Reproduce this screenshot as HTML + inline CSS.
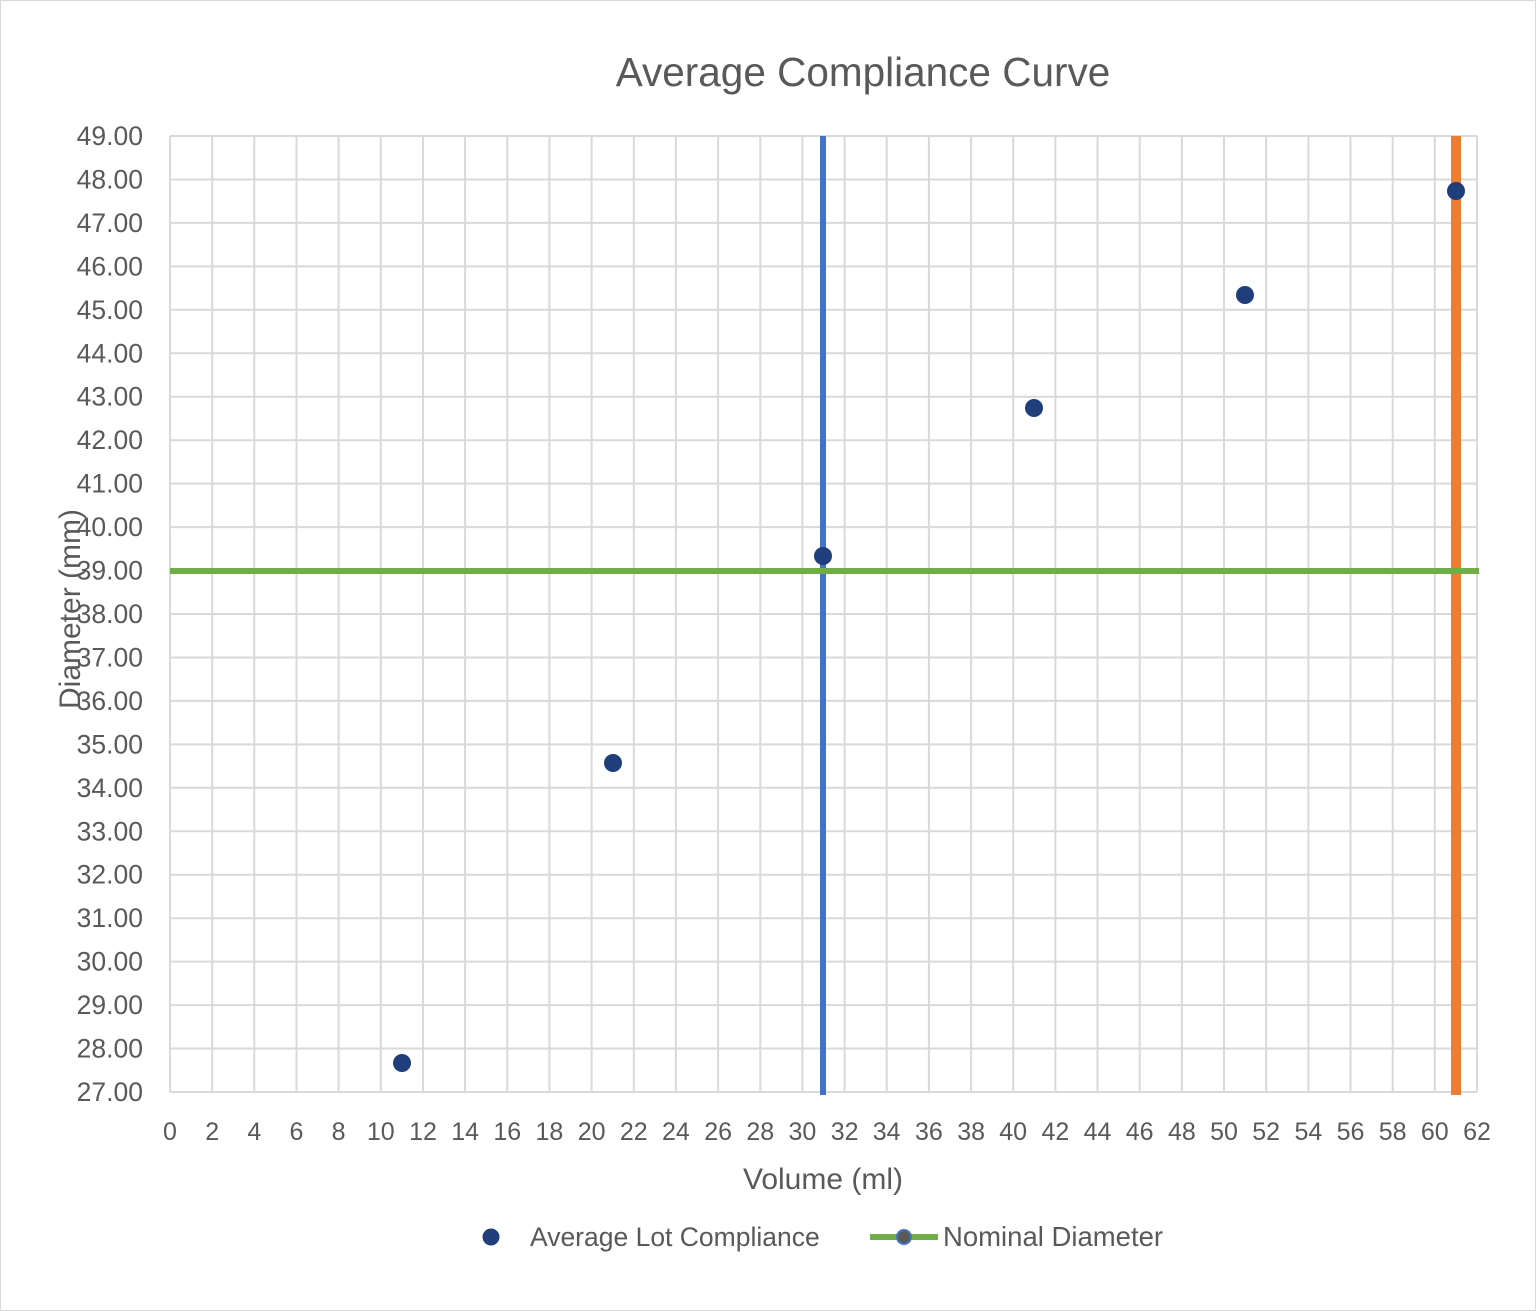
<!DOCTYPE html>
<html><head><meta charset="utf-8"><style>
html,body{margin:0;padding:0;background:#fff;}
svg{display:block;}
text{font-family:"Liberation Sans",sans-serif;fill:#595959;}
</style></head><body>
<svg width="1536" height="1311" viewBox="0 0 1536 1311" xmlns="http://www.w3.org/2000/svg">
<rect x="0.5" y="0.5" width="1535" height="1310" fill="#fff" stroke="#d9d9d9"/>
<text x="863" y="86" font-size="40.5" text-anchor="middle">Average Compliance Curve</text>
<g stroke="#d9d9d9" stroke-width="2">
<line x1="170" y1="136" x2="1477" y2="136"/><line x1="170" y1="179.5" x2="1477" y2="179.5"/><line x1="170" y1="222.9" x2="1477" y2="222.9"/><line x1="170" y1="266.4" x2="1477" y2="266.4"/><line x1="170" y1="309.8" x2="1477" y2="309.8"/><line x1="170" y1="353.3" x2="1477" y2="353.3"/><line x1="170" y1="396.7" x2="1477" y2="396.7"/><line x1="170" y1="440.2" x2="1477" y2="440.2"/><line x1="170" y1="483.6" x2="1477" y2="483.6"/><line x1="170" y1="527.1" x2="1477" y2="527.1"/><line x1="170" y1="570.5" x2="1477" y2="570.5"/><line x1="170" y1="614" x2="1477" y2="614"/><line x1="170" y1="657.5" x2="1477" y2="657.5"/><line x1="170" y1="700.9" x2="1477" y2="700.9"/><line x1="170" y1="744.4" x2="1477" y2="744.4"/><line x1="170" y1="787.8" x2="1477" y2="787.8"/><line x1="170" y1="831.3" x2="1477" y2="831.3"/><line x1="170" y1="874.7" x2="1477" y2="874.7"/><line x1="170" y1="918.2" x2="1477" y2="918.2"/><line x1="170" y1="961.6" x2="1477" y2="961.6"/><line x1="170" y1="1005.1" x2="1477" y2="1005.1"/><line x1="170" y1="1048.5" x2="1477" y2="1048.5"/><line x1="170" y1="1092" x2="1477" y2="1092"/>
<line x1="170" y1="136" x2="170" y2="1092"/><line x1="212.2" y1="136" x2="212.2" y2="1092"/><line x1="254.3" y1="136" x2="254.3" y2="1092"/><line x1="296.5" y1="136" x2="296.5" y2="1092"/><line x1="338.6" y1="136" x2="338.6" y2="1092"/><line x1="380.8" y1="136" x2="380.8" y2="1092"/><line x1="423" y1="136" x2="423" y2="1092"/><line x1="465.1" y1="136" x2="465.1" y2="1092"/><line x1="507.3" y1="136" x2="507.3" y2="1092"/><line x1="549.4" y1="136" x2="549.4" y2="1092"/><line x1="591.6" y1="136" x2="591.6" y2="1092"/><line x1="633.8" y1="136" x2="633.8" y2="1092"/><line x1="675.9" y1="136" x2="675.9" y2="1092"/><line x1="718.1" y1="136" x2="718.1" y2="1092"/><line x1="760.3" y1="136" x2="760.3" y2="1092"/><line x1="802.4" y1="136" x2="802.4" y2="1092"/><line x1="844.6" y1="136" x2="844.6" y2="1092"/><line x1="886.7" y1="136" x2="886.7" y2="1092"/><line x1="928.9" y1="136" x2="928.9" y2="1092"/><line x1="971.1" y1="136" x2="971.1" y2="1092"/><line x1="1013.2" y1="136" x2="1013.2" y2="1092"/><line x1="1055.4" y1="136" x2="1055.4" y2="1092"/><line x1="1097.5" y1="136" x2="1097.5" y2="1092"/><line x1="1139.7" y1="136" x2="1139.7" y2="1092"/><line x1="1181.9" y1="136" x2="1181.9" y2="1092"/><line x1="1224" y1="136" x2="1224" y2="1092"/><line x1="1266.2" y1="136" x2="1266.2" y2="1092"/><line x1="1308.4" y1="136" x2="1308.4" y2="1092"/><line x1="1350.5" y1="136" x2="1350.5" y2="1092"/><line x1="1392.7" y1="136" x2="1392.7" y2="1092"/><line x1="1434.8" y1="136" x2="1434.8" y2="1092"/><line x1="1477" y1="136" x2="1477" y2="1092"/>
</g>
<g font-size="26.5" text-anchor="end">
<text x="143" y="145">49.00</text><text x="143" y="188.5">48.00</text><text x="143" y="231.9">47.00</text><text x="143" y="275.4">46.00</text><text x="143" y="318.8">45.00</text><text x="143" y="362.3">44.00</text><text x="143" y="405.7">43.00</text><text x="143" y="449.2">42.00</text><text x="143" y="492.6">41.00</text><text x="143" y="536.1">40.00</text><text x="143" y="579.5">39.00</text><text x="143" y="623">38.00</text><text x="143" y="666.5">37.00</text><text x="143" y="709.9">36.00</text><text x="143" y="753.4">35.00</text><text x="143" y="796.8">34.00</text><text x="143" y="840.3">33.00</text><text x="143" y="883.7">32.00</text><text x="143" y="927.2">31.00</text><text x="143" y="970.6">30.00</text><text x="143" y="1014.1">29.00</text><text x="143" y="1057.5">28.00</text><text x="143" y="1101">27.00</text>
</g>
<g font-size="25" text-anchor="middle">
<text x="170" y="1140">0</text><text x="212.2" y="1140">2</text><text x="254.3" y="1140">4</text><text x="296.5" y="1140">6</text><text x="338.6" y="1140">8</text><text x="380.8" y="1140">10</text><text x="423" y="1140">12</text><text x="465.1" y="1140">14</text><text x="507.3" y="1140">16</text><text x="549.4" y="1140">18</text><text x="591.6" y="1140">20</text><text x="633.8" y="1140">22</text><text x="675.9" y="1140">24</text><text x="718.1" y="1140">26</text><text x="760.3" y="1140">28</text><text x="802.4" y="1140">30</text><text x="844.6" y="1140">32</text><text x="886.7" y="1140">34</text><text x="928.9" y="1140">36</text><text x="971.1" y="1140">38</text><text x="1013.2" y="1140">40</text><text x="1055.4" y="1140">42</text><text x="1097.5" y="1140">44</text><text x="1139.7" y="1140">46</text><text x="1181.9" y="1140">48</text><text x="1224" y="1140">50</text><text x="1266.2" y="1140">52</text><text x="1308.4" y="1140">54</text><text x="1350.5" y="1140">56</text><text x="1392.7" y="1140">58</text><text x="1434.8" y="1140">60</text><text x="1477" y="1140">62</text>
</g>
<text x="823" y="1189" font-size="30" text-anchor="middle">Volume (ml)</text>
<text transform="translate(80,609) rotate(-90)" font-size="30" text-anchor="middle">Diameter (mm)</text>
<line x1="823" y1="136" x2="823" y2="1095" stroke="#4472c4" stroke-width="6"/>
<line x1="1456" y1="136" x2="1456" y2="1095" stroke="#ed7d31" stroke-width="10"/>
<line x1="170" y1="571" x2="1479" y2="571" stroke="#70ad47" stroke-width="6"/>
<g fill="#203f7a">
<circle cx="402" cy="1063" r="9"/><circle cx="613" cy="763" r="9"/><circle cx="823" cy="556" r="9"/><circle cx="1034" cy="408" r="9"/><circle cx="1245" cy="295" r="9"/><circle cx="1456" cy="191" r="9"/>
</g>
<circle cx="491" cy="1237" r="8.5" fill="#203f7a"/>
<text x="530" y="1246" font-size="26.5">Average Lot Compliance</text>
<line x1="870" y1="1237" x2="938" y2="1237" stroke="#70ad47" stroke-width="6"/>
<circle cx="904" cy="1237" r="7" fill="#595959" stroke="#4472c4" stroke-width="2"/>
<text x="943" y="1246" font-size="27.5">Nominal Diameter</text>
</svg>
</body></html>
